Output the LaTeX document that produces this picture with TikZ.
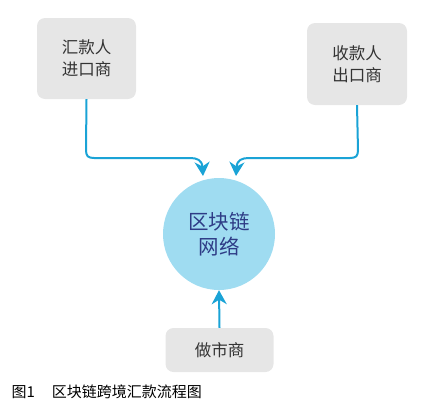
\documentclass[tikz,border=0pt]{standalone}
\usepackage{fontspec}
\setmainfont{Noto Sans CJK SC}
\usetikzlibrary{arrows.meta}
\definecolor{boxgray}{HTML}{E6E6E6}
\definecolor{linkblue}{HTML}{1AA3D6}
\definecolor{circblue}{HTML}{9FDCF1}
\definecolor{circtext}{HTML}{2E3C86}
\definecolor{boxtext}{HTML}{333333}
\tikzset{
  party/.style={fill=boxgray, rounded corners=8pt, align=center, text=boxtext,
    font=\fontsize{16.5}{22}\selectfont, inner sep=0pt},
  link/.style={draw=linkblue, line width=2pt, -{Stealth[length=14pt,width=15pt,inset=4.5pt]}},
}
\begin{document}
\begin{tikzpicture}[x=1pt,y=-1pt]
\useasboundingbox (0,0) rectangle (423,418);
\node[party, minimum width=99pt, minimum height=81pt] (imp) at (86.5,58.5) {汇款人\\进口商};
\node[party, minimum width=100pt, minimum height=82pt] (exp) at (357,64) {收款人\\出口商};
\node[party, minimum width=108pt, minimum height=44pt] (mm) at (219.5,350) {做市商};
\node[circle, fill=circblue, minimum size=112pt, inner sep=0pt, align=center,
  text=circtext, font=\fontsize{20.5}{25}\selectfont] (net) at (219,234) {区块链\\网络};
\coordinate (lt) at (203,176);
\coordinate (rt) at (236,176);
\draw[link] (imp.south) -- (86,150) .. controls (86,156) and (88,158) .. (94,158)
  -- (190,158) .. controls (197,158) and (202,160) .. (lt);
\draw[link] (exp.south) -- (358,150) .. controls (358,156) and (356,158) .. (350,158)
  -- (249,158) .. controls (242,158) and (237,160) .. (rt);
\draw[link] (mm.north) -- (net.south);
\node[anchor=west, text=black, font=\fontsize{15}{16}\selectfont] (cap) at (8,392) {图1\hspace{17pt}区块链跨境汇款流程图};
\end{tikzpicture}
\end{document}
